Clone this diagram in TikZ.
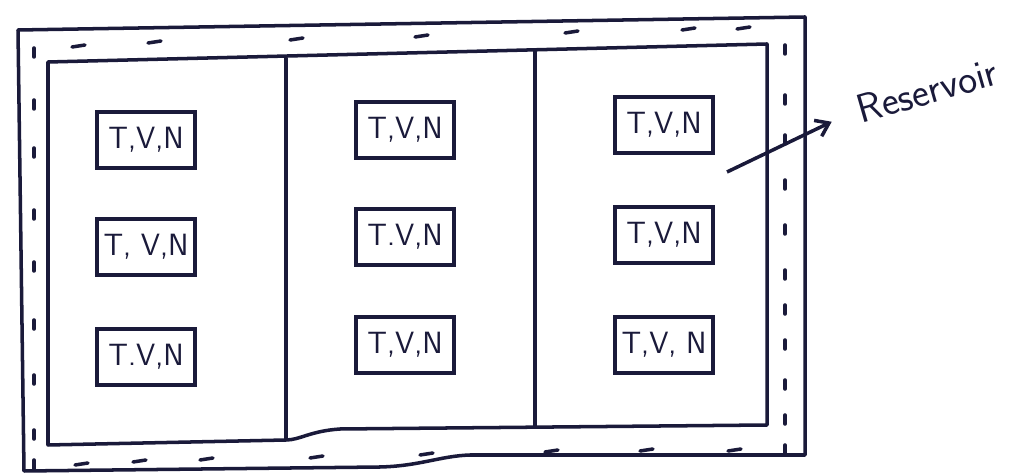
\documentclass[tikz,border=0pt]{standalone}
\usepackage{tikz}
\usetikzlibrary{arrows.meta, positioning}
\usepackage{xcolor}
\definecolor{ink}{RGB}{26,26,58}

\tikzset{
    cell/.style={draw=ink, line width=2pt, minimum width=1.96cm, minimum height=1.12cm,
                 inner sep=0pt, text=ink, font=\fontsize{17.5}{20}\sffamily},
    wall/.style={draw=ink, line width=2pt, line join=round},
    tick/.style={draw=ink, line width=2pt, line cap=round}
}

\begin{document}
\begin{tikzpicture}[x=0.02cm, y=-0.02cm]
    \useasboundingbox (0,0) rectangle (1031,475);
    \fill[white] (0,0) rectangle (1031,475);

    % outer wall of the reservoir
    \draw[wall] (18,30) -- (805,17) -- (805,455) -- (470,455)
        .. controls (440,456) and (420,466) .. (380,467) -- (24,471) -- cycle;

    % inner system
    \draw[wall] (48,62) -- (767,44) -- (767,425) -- (340,429)
        .. controls (310,431) and (300,440) .. (286,440) -- (48,445) -- cycle;
    \draw[wall] (286,58) -- (286,440);
    \draw[wall] (535,50) -- (535,428);

    % dashes in the gap
    \foreach \x/\y in {72/47, 148/43, 290/40, 415/37, 565/33, 682/30, 737/29}
        \draw[tick] (\x,\y) -- ++(13,-2);
    \foreach \x/\y in {75/465, 133/462, 200/460, 310/458, 420/455, 545/452, 640/451, 728/451}
        \draw[tick] (\x,\y) -- ++(13,-2);
    \foreach \y in {48, 100, 148, 210, 262, 320, 375, 430, 460}
        \draw[tick] (34,\y) -- ++(0,9);
    \foreach \y in {45, 95, 135, 180, 225, 270, 305, 340, 380, 415, 445}
        \draw[tick] (785,\y) -- ++(0,9);

    % subsystems
    \node[cell] (c1r1) at (146,140) {T,V,N};
    \node[cell] (c1r2) at (146,247) {T, V,N};
    \node[cell] (c1r3) at (146,357) {T.V,N};
    \node[cell] (c2r1) at (405,130) {T,V,N};
    \node[cell] (c2r2) at (405,237) {T.V,N};
    \node[cell] (c2r3) at (405,345) {T,V,N};
    \node[cell] (c3r1) at (664,125) {T,V,N};
    \node[cell] (c3r2) at (664,235) {T,V,N};
    \node[cell] (c3r3) at (664,345) {T,V, N};

    % label
    \node[text=ink, font=\fontsize{23}{25}\sffamily, rotate=16, anchor=west] (res) at (852,112) {Reservoir};
    \coordinate (tail) at (727,172);
    \draw[ink, line width=2pt, -{Straight Barb[length=7pt, width=10pt]}, shorten >=0.45cm] (tail) -- (res.west);
\end{tikzpicture}
\end{document}
